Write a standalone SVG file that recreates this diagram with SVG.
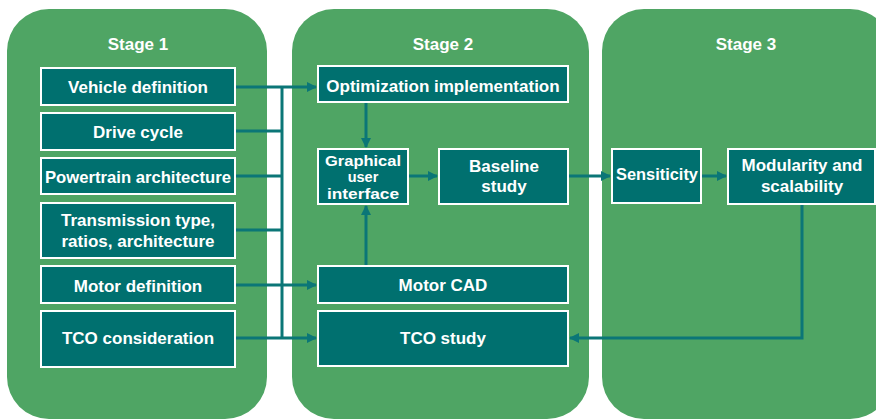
<svg xmlns="http://www.w3.org/2000/svg" width="876" height="419" viewBox="0 0 876 419">
<defs>
<style>
.panel{fill:#4FA564}
.box{fill:#00706F;stroke:#FFFFFF;stroke-width:2}
.t{font-family:"Liberation Sans",Arial,sans-serif;font-weight:bold;font-size:17px;fill:#FFFFFF;text-anchor:middle}
.s{font-size:14.5px}
.c{fill:none;stroke:#0B7677;stroke-width:3}
</style>
<marker id="ah" viewBox="0 0 10 10" refX="9" refY="5" markerWidth="10" markerHeight="11" markerUnits="userSpaceOnUse" orient="auto">
<path d="M0,0 L10,5 L0,10 z" fill="#0B7677"/>
</marker>
</defs>
<rect width="876" height="419" fill="#FFFFFF"/>
<g id="stage1">
<rect class="panel" x="7" y="9" width="260" height="410" rx="42"/>
<text class="t" x="138" y="50">Stage 1</text>
</g>
<g id="stage2">
<rect class="panel" x="292" y="9" width="297" height="410" rx="42"/>
<text class="t" x="443" y="50">Stage 2</text>
</g>
<g id="stage3">
<rect class="panel" x="602" y="9" width="290" height="410" rx="42"/>
<text class="t" x="746" y="50">Stage 3</text>
</g>
<g id="connectors">
<path class="c" d="M235,87 H316" marker-end="url(#ah)"/>
<path class="c" d="M282,87 V338"/>
<path class="c" d="M235,131 H282"/>
<path class="c" d="M235,176 H282"/>
<path class="c" d="M235,230 H282"/>
<path class="c" d="M235,285 H316" marker-end="url(#ah)"/>
<path class="c" d="M235,338 H316" marker-end="url(#ah)"/>
<path class="c" d="M366,103 V147" marker-end="url(#ah)"/>
<path class="c" d="M366,265 V206" marker-end="url(#ah)"/>
<path class="c" d="M409,176 H437" marker-end="url(#ah)"/>
<path class="c" d="M569,176 H610" marker-end="url(#ah)"/>
<path class="c" d="M702,176 H726" marker-end="url(#ah)"/>
<path class="c" d="M802,205 V338 H570" marker-end="url(#ah)"/>
</g>
<g id="n-vehicle"><rect class="box" x="41" y="68" width="194" height="37"/><text class="t" x="138" y="93">Vehicle definition</text></g>
<g id="n-drive"><rect class="box" x="41" y="113" width="194" height="37"/><text class="t" x="138" y="138">Drive cycle</text></g>
<g id="n-powertrain"><rect class="box" x="41" y="158" width="194" height="36"/><text class="t" x="138" y="183" textLength="186" lengthAdjust="spacingAndGlyphs">Powertrain architecture</text></g>
<g id="n-transmission"><rect class="box" x="41" y="203" width="194" height="55"/><text class="t" x="138" y="226">Transmission type,</text><text class="t" x="138" y="247">ratios, architecture</text></g>
<g id="n-motordef"><rect class="box" x="41" y="266" width="194" height="37"/><text class="t" x="138" y="292">Motor definition</text></g>
<g id="n-tcocons"><rect class="box" x="41" y="311" width="194" height="56"/><text class="t" x="138" y="344">TCO consideration</text></g>
<g id="n-optim"><rect class="box" x="318" y="66" width="250" height="36"/><text class="t" x="443" y="92">Optimization implementation</text></g>
<g id="n-gui"><rect class="box" x="318" y="149" width="90" height="55"/><text class="t s" x="363" y="165.5" textLength="76" lengthAdjust="spacingAndGlyphs">Graphical</text><text class="t s" x="363" y="182">user</text><text class="t s" x="363" y="198.5" textLength="72" lengthAdjust="spacingAndGlyphs">interface</text></g>
<g id="n-baseline"><rect class="box" x="439" y="149" width="129" height="55"/><text class="t" x="504" y="172">Baseline</text><text class="t" x="504" y="192">study</text></g>
<g id="n-motorcad"><rect class="box" x="318" y="266" width="250" height="37"/><text class="t" x="443" y="291">Motor CAD</text></g>
<g id="n-tcostudy"><rect class="box" x="318" y="311" width="250" height="55"/><text class="t" x="443" y="344">TCO study</text></g>
<g id="n-sens"><rect class="box" x="612" y="149" width="89" height="54"/><text class="t" x="657" y="180" textLength="82" lengthAdjust="spacingAndGlyphs">Sensiticity</text></g>
<g id="n-mod"><rect class="box" x="728" y="149" width="147" height="55"/><text class="t" x="802" y="171">Modularity and</text><text class="t" x="802" y="192">scalability</text></g>
</svg>
